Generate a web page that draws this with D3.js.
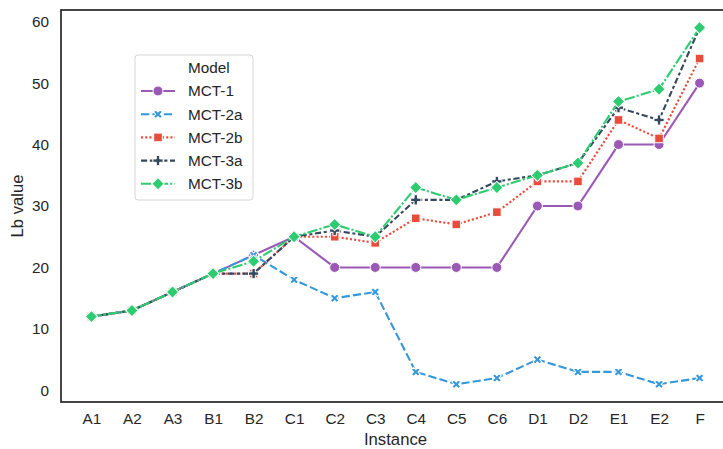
<!DOCTYPE html>
<html>
<head>
<meta charset="utf-8">
<script src="https://cdn.jsdelivr.net/npm/d3@7"></script>
<style>
  body { margin: 0; background: #fff; }
  text { font-family: "Liberation Sans", Arial, sans-serif; fill: #262626; }
</style>
</head>
<body>
<div id="chart"></div>
<script>
// data
const instances = ["A1", "A2", "A3", "B1", "B2", "C1", "C2", "C3", "C4", "C5", "C6", "D1", "D2", "E1", "E2", "F"];
const models = ["MCT-1", "MCT-2a", "MCT-2b", "MCT-3a", "MCT-3b"];
const mct1  = [12, 13, 16, 19, 22, 25, 20, 20, 20, 20, 20, 30, 30, 40, 40, 50];
const mct2a = [12, 13, 16, 19, 22, 18, 15, 16, 3, 1, 2, 5, 3, 3, 1, 2];
const mct2b = [12, 13, 16, 19, 19, 25, 25, 24, 28, 27, 29, 34, 34, 44, 41, 54];
const mct3a = [12, 13, 16, 19, 19, 25, 26, 25, 31, 31, 34, 35, 37, 46, 44, 59];
const mct3b = [12, 13, 16, 19, 21, 25, 27, 25, 33, 31, 33, 35, 37, 47, 49, 59];
const yTicks = [0, 10, 20, 30, 40, 50, 60];

const width = 723
const height = 449
const margin = { top: 10, right: -7, bottom: 47, left: 61 };

// style per model (flatui colours, seaborn dashes + markers)
const colors = ["#9b59b6", "#3498db", "#e74c3c", "#34495e", "#2ecc71"];
const dashes = [null, "8.3,3.1", "2.1,2.1", "6.2,2.6,3.1,2.6", "10.4,2.1,2.1,2.1"];
const markers = [
    d3.symbol().type(d3.symbolCircle).size(78),
    d3.symbol().type(d3.symbolCross).size(48),
    d3.symbol().type(d3.symbolSquare).size(74),
    d3.symbol().type(d3.symbolCross).size(58),
    d3.symbol().type(d3.symbolSquare).size(76)
];
const rotations = [0, 45, 0, 0, 45];

const series = [mct1, mct2a, mct2b, mct3a, mct3b].map((vals, i) => ({
    name: models[i],
    values: vals.map((v, j) => ({ inst: instances[j], v: v }))
}));

const svg = d3.select("#chart")
    .append("svg")
    .attr("width", width)
    .attr("height", height)

const x = d3.scalePoint()
    .domain(instances)
    .range([margin.left, width - margin.right])
    .padding(0.75)

const y = d3.scaleLinear()
    .domain([-1.9, 61.9])
    .range([height - margin.bottom, margin.top])

// axes (no tick marks, seaborn white style)
svg.append("g")
    .attr("transform", `translate(0,${height - margin.bottom})`)
    .call(d3.axisBottom(x).tickSize(0).tickPadding(11))
    .call(g => g.select(".domain").remove())
    .selectAll("text")
    .style("font-size", "15.3px")
    .attr("fill", "#262626")

svg.append("g")
    .attr("transform", `translate(${margin.left},0)`)
    .call(d3.axisLeft(y).tickValues(yTicks).tickSize(0).tickPadding(12))
    .call(g => g.select(".domain").remove())
    .selectAll("text")
    .style("font-size", "15.3px")
    .attr("fill", "#262626")

// spines
const spine = svg.append("g").attr("stroke", "#262626").attr("stroke-width", 1.7).attr("fill", "none");
spine.append("rect")
    .attr("x", margin.left)
    .attr("y", margin.top)
    .attr("width", width - margin.right - margin.left)
    .attr("height", height - margin.bottom - margin.top)

// axis labels
svg.append("text")
    .attr("x", (margin.left + width - margin.right) / 2)
    .attr("y", 445)
    .attr("text-anchor", "middle")
    .style("font-size", "16.7px")
    .text("Instance")

svg.append("text")
    .attr("transform", `translate(23,${(margin.top + height - margin.bottom) / 2}) rotate(-90)`)
    .attr("text-anchor", "middle")
    .style("font-size", "16.7px")
    .text("Lb value")

// lines + markers
const line = d3.line().x(d => x(d.inst)).y(d => y(d.v));

series.forEach(function (s, i) {
    const g = svg.append("g");
    g.append("path")
        .datum(s.values)
        .attr("d", line)
        .attr("fill", "none")
        .attr("stroke", colors[i])
        .attr("stroke-width", 2.1)
        .attr("stroke-dasharray", dashes[i])
    g.selectAll("path.mk")
        .data(s.values)
        .join("path")
        .attr("class", "mk")
        .attr("d", markers[i])
        .attr("transform", d => `translate(${x(d.inst)},${y(d.v)}) rotate(${rotations[i]})`)
        .attr("fill", colors[i])
        .attr("stroke", "#fff")
        .attr("stroke-width", 1)
});

// legend
const legend = svg.append("g").attr("transform", "translate(135,55)");
legend.append("rect")
    .attr("width", 118)
    .attr("height", 145)
    .attr("rx", 3)
    .attr("fill", "#fff")
    .attr("fill-opacity", 0.8)
    .attr("stroke", "#d6d6d6")
    .attr("stroke-width", 1)

legend.append("text")
    .attr("x", 53)
    .attr("y", 13)
    .attr("dy", "0.35em")
    .style("font-size", "15.3px")
    .text("Model")

models.forEach(function (m, i) {
    const row = legend.append("g").attr("transform", `translate(0,${36 + i * 23.2})`);
    row.append("line")
        .attr("x1", 6)
        .attr("x2", 40)
        .attr("stroke", colors[i])
        .attr("stroke-width", 2.1)
        .attr("stroke-dasharray", dashes[i])
    row.append("path")
        .attr("d", markers[i])
        .attr("transform", `translate(23,0) rotate(${rotations[i]})`)
        .attr("fill", colors[i])
        .attr("stroke", "#fff")
        .attr("stroke-width", 1)
    row.append("text")
        .attr("x", 53)
        .attr("dy", "0.35em")
        .style("font-size", "15.3px")
        .text(m)
});
</script>
</body>
</html>
